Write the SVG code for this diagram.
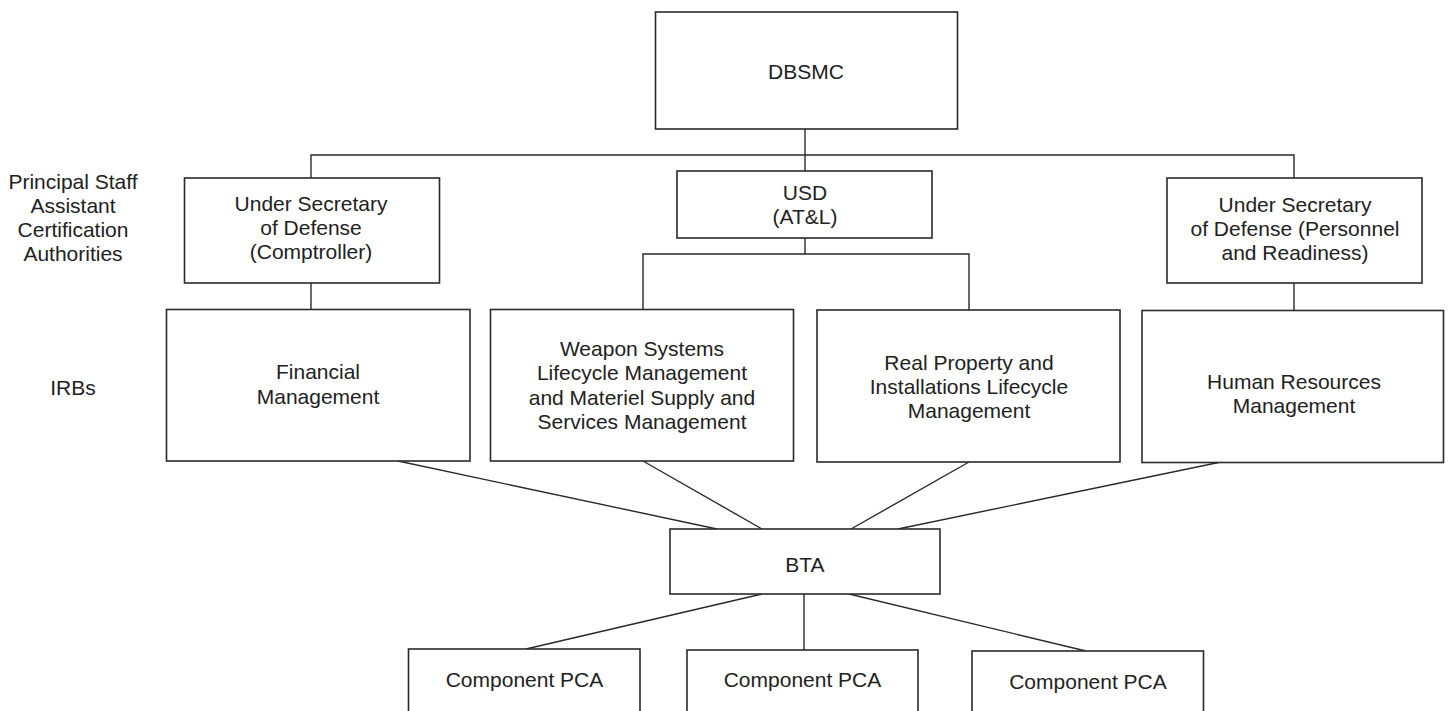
<svg xmlns="http://www.w3.org/2000/svg" width="1449" height="711" viewBox="0 0 1449 711">
<style>
.box{fill:#fff;stroke:#2a2a2a;stroke-width:1.6}
.ln{fill:none;stroke:#2a2a2a;stroke-width:1.4}
text{font-family:"Liberation Sans",Arial,Helvetica,sans-serif;font-size:21px;fill:#222;text-anchor:middle}
</style>
<rect width="1449" height="711" fill="#fff"/>
<g id="connectors">
<polyline class="ln" points="805,129 805,171"/>
<polyline class="ln" points="311,178 311,155 1294,155 1294,178"/>
<line class="ln" x1="311" y1="283" x2="311" y2="309"/>
<line class="ln" x1="805" y1="238" x2="805" y2="254"/>
<polyline class="ln" points="643,309 643,254 969,254 969,310"/>
<line class="ln" x1="1294" y1="283" x2="1294" y2="311"/>
<line class="ln" x1="398" y1="461" x2="717" y2="529"/>
<line class="ln" x1="643" y1="461" x2="762" y2="529"/>
<line class="ln" x1="969" y1="462" x2="851" y2="529"/>
<line class="ln" x1="1221" y1="462" x2="898" y2="529"/>
<line class="ln" x1="762" y1="594" x2="526" y2="649"/>
<line class="ln" x1="804" y1="594" x2="804" y2="650"/>
<line class="ln" x1="849" y1="594" x2="1086" y2="651"/>
</g>
<g id="label-psa">
<text x="73" y="189">Principal Staff</text>
<text x="73" y="213">Assistant</text>
<text x="73" y="237">Certification</text>
<text x="73" y="261">Authorities</text>
</g>
<g id="label-irbs"><text x="73" y="395">IRBs</text></g>
<g id="dbsmc">
<rect class="box" x="655.5" y="12" width="302" height="117"/>
<text x="806" y="78.5">DBSMC</text>
</g>
<g id="usd-comptroller">
<rect class="box" x="184.5" y="178" width="255" height="105"/>
<text x="311" y="211">Under Secretary</text>
<text x="311" y="235">of Defense</text>
<text x="311" y="259">(Comptroller)</text>
</g>
<g id="usd-atl">
<rect class="box" x="677" y="171" width="255" height="67"/>
<text x="805" y="200">USD</text>
<text x="805" y="224">(AT&amp;L)</text>
</g>
<g id="usd-pr">
<rect class="box" x="1167" y="178" width="255" height="105"/>
<text x="1295" y="212">Under Secretary</text>
<text x="1295" y="236">of Defense (Personnel</text>
<text x="1295" y="260">and Readiness)</text>
</g>
<g id="irb-fm">
<rect class="box" x="166.5" y="309.5" width="303.5" height="151.5"/>
<text x="318" y="379">Financial</text>
<text x="318" y="404">Management</text>
</g>
<g id="irb-ws">
<rect class="box" x="490.5" y="309.5" width="303" height="151.5"/>
<text x="642" y="355.5">Weapon Systems</text>
<text x="642" y="380">Lifecycle Management</text>
<text x="642" y="404.5">and Materiel Supply and</text>
<text x="642" y="429">Services Management</text>
</g>
<g id="irb-rp">
<rect class="box" x="817" y="310" width="303" height="152"/>
<text x="969" y="370">Real Property and</text>
<text x="969" y="394">Installations Lifecycle</text>
<text x="969" y="418">Management</text>
</g>
<g id="irb-hr">
<rect class="box" x="1142" y="310.5" width="301.5" height="152"/>
<text x="1294" y="389">Human Resources</text>
<text x="1294" y="413">Management</text>
</g>
<g id="bta">
<rect class="box" x="670" y="529" width="270" height="65"/>
<text x="805" y="571.5">BTA</text>
</g>
<g id="pca-1">
<rect class="box" x="408.5" y="649" width="231.5" height="80"/>
<text x="524.5" y="687">Component PCA</text>
</g>
<g id="pca-2">
<rect class="box" x="687" y="650" width="231" height="80"/>
<text x="802.5" y="687">Component PCA</text>
</g>
<g id="pca-3">
<rect class="box" x="972" y="651" width="231.5" height="80"/>
<text x="1088" y="689">Component PCA</text>
</g>
</svg>
